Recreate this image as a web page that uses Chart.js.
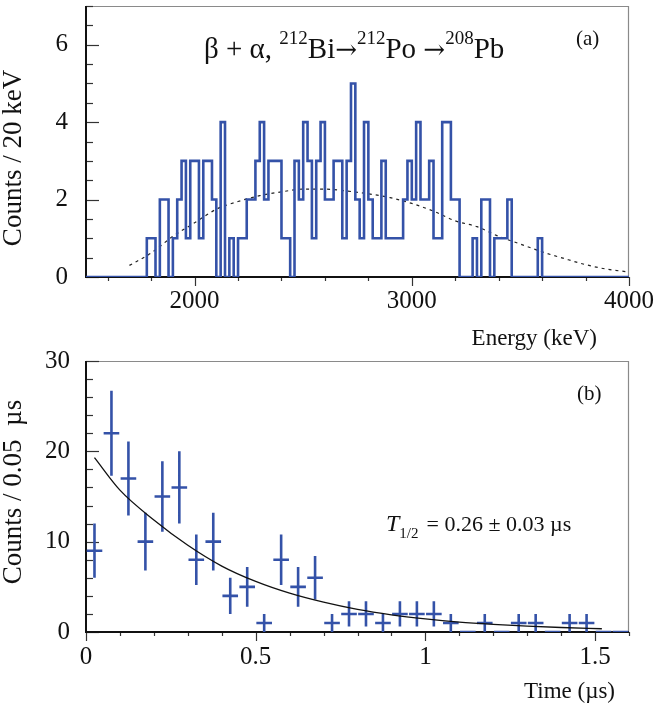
<!DOCTYPE html>
<html>
<head>
<meta charset="utf-8">
<script src="https://cdn.jsdelivr.net/npm/chart.js@4.4.0/dist/chart.umd.min.js"></script>
<style>
  html, body { margin: 0; padding: 0; background: #fff; }
  #wrap { position: relative; width: 655px; height: 706px; }
  canvas { position: absolute; left: 0; }
  #energyChart { top: 0; }
  #timeChart { top: 350px; }
</style>
</head>
<body>
<div id="wrap">
  <canvas id="energyChart" width="655" height="350"></canvas>
  <canvas id="timeChart" width="655" height="356"></canvas>
</div>
<script>
// panel (a): energy spectrum, 20 keV bins starting at 1780 keV
var binStart = 1780;
var binWidth = 20;
var countsPerBin = [
  1, 1, 0, 2, 2, 0, 1, 2, 3, 1,   // 1780 - 1980
  3, 3, 1, 3, 3, 2, 0, 4, 0, 1,   // 1980 - 2180
  0, 1, 1, 2, 2, 3, 4, 2, 3, 3,   // 2180 - 2380
  3, 1, 1, 0, 3, 2, 4, 3, 1, 3,   // 2380 - 2580
  4, 2, 2, 3, 3, 1, 3, 5, 2, 1,   // 2580 - 2780
  4, 2, 1, 1, 3, 1, 1, 1, 1, 2,   // 2780 - 2980
  3, 2, 4, 2, 2, 3, 1, 1, 4, 4,   // 2980 - 3180
  2, 2, 0, 0, 0, 1, 0, 2, 2, 0,   // 3180 - 3380
  1, 1, 1, 2, 0, 0, 0, 0, 0, 0,   // 3380 - 3580
  1                               // 3580 - 3600
];
// dashed simulated spectrum shape
var shapeEnergy = [1700, 1800, 1900, 2000, 2100, 2200, 2300, 2400, 2500, 2600, 2700, 2800,
                   2900, 3000, 3100, 3200, 3300, 3400, 3500, 3600, 3700, 3800, 3900, 4000];
var shapeCounts = [0.3, 0.62, 1.05, 1.4, 1.75, 1.95, 2.1, 2.2, 2.27, 2.27, 2.22, 2.15,
                   2.05, 1.9, 1.7, 1.45, 1.3, 1.05, 0.85, 0.65, 0.48, 0.32, 0.2, 0.13];
var energyTicks = [2000, 3000, 4000];
var countTicks = [0, 2, 4, 6];

// panel (b): time distribution, 0.05 us bins
var timeCenters = [0.025, 0.075, 0.125, 0.175, 0.225, 0.275, 0.325, 0.375, 0.425, 0.475,
                   0.525, 0.575, 0.625, 0.675, 0.725, 0.775, 0.825, 0.875, 0.925, 0.975,
                   1.025, 1.075, 1.125, 1.175, 1.225, 1.275, 1.325, 1.375, 1.425, 1.475,
                   1.525, 1.575];
var timeCounts = [9, 22, 17, 10, 15, 16, 8, 10, 4, 5,
                  1, 8, 5, 6, 1, 2, 2, 1, 2, 2,
                  2, 1, 0, 1, 0, 1, 1, 0, 1, 1,
                  0, 0];
var timeErrors = [3, 4.7, 4.1, 3.2, 3.9, 4, 2.8, 3.2, 2, 2.2,
                  1, 2.8, 2.2, 2.4, 1, 1.4, 1.4, 1, 1.4, 1.4,
                  1.4, 1, 0, 1, 0, 1, 1, 0, 1, 1,
                  0, 0];
// exponential fit, T1/2 = 0.26 us
var fitTimes = [0.025, 0.1, 0.2, 0.3, 0.4, 0.5, 0.6, 0.7, 0.8, 0.9, 1.0, 1.1, 1.2, 1.3, 1.4, 1.52];
var fitCounts = [19.3, 15.7, 12.4, 9.6, 7.3, 5.6, 4.3, 3.3, 2.5, 1.9, 1.45, 1.1, 0.85, 0.65, 0.5, 0.36];
var timeTicks = [0, 0.5, 1, 1.5];
var timeCountTicks = [0, 10, 20, 30];

var blue = '#3452a8';
var serif = "'Liberation Serif', 'Times New Roman', serif";
Chart.defaults.font.family = serif;
Chart.defaults.color = '#111';

// histogram as a stepped line
var histPoints = [{x: 1500, y: 0}];
countsPerBin.forEach(function (c, i) {
  histPoints.push({x: binStart + i * binWidth, y: c});
});
histPoints.push({x: binStart + countsPerBin.length * binWidth, y: 0});
histPoints.push({x: 4000, y: 0});

var shapePoints = shapeEnergy.map(function (e, i) { return {x: e, y: shapeCounts[i]}; });

// error bars as broken line segments
var halfBin = 0.023;
var vBars = [], hBars = [];
timeCenters.forEach(function (t, i) {
  if (timeErrors[i] > 0) {
    vBars.push({x: t, y: timeCounts[i] - timeErrors[i]}, {x: t, y: timeCounts[i] + timeErrors[i]}, {x: t, y: null});
  }
  hBars.push({x: t - halfBin, y: timeCounts[i]}, {x: t + halfBin, y: timeCounts[i]}, {x: t, y: null});
});
var fitPoints = fitTimes.map(function (t, i) { return {x: t, y: fitCounts[i]}; });

// frame, inside y ticks, outside x ticks, and text labels
var frameTicks = {
  id: 'frameTicks',
  beforeDatasetsDraw: function (chart, args, o) {
    var ctx = chart.ctx, a = chart.chartArea, x = chart.scales.x, y = chart.scales.y;
    ctx.save();
    ctx.strokeStyle = '#8a8a8a';
    ctx.lineWidth = 1.2;
    ctx.beginPath();
    ctx.moveTo(a.left, a.top + 0.5);
    ctx.lineTo(a.right - 0.5, a.top + 0.5);
    ctx.lineTo(a.right - 0.5, a.bottom);
    ctx.stroke();

    ctx.strokeStyle = '#333';
    ctx.lineWidth = 1.2;
    var n = Math.round((y.max - y.min) / o.yMinor);
    for (var i = 0; i <= n; i++) {
      var v = y.min + i * o.yMinor;
      var major = Math.abs(v / o.yMajor - Math.round(v / o.yMajor)) < 1e-6;
      var py = Math.round(y.getPixelForValue(v)) + 0.5;
      ctx.beginPath();
      ctx.moveTo(a.left, py);
      ctx.lineTo(a.left + (major ? 13 : 7), py);
      ctx.stroke();
    }
    var first = Math.ceil(x.min / o.xMinor - 1e-9);
    var last = Math.floor(x.max / o.xMinor + 1e-9);
    for (var k = first; k <= last; k++) {
      var xv = k * o.xMinor;
      var xmaj = Math.abs(xv / o.xMajor - Math.round(xv / o.xMajor)) < 1e-6;
      var px = Math.round(x.getPixelForValue(xv)) + 0.5;
      ctx.beginPath();
      ctx.moveTo(px, a.bottom);
      ctx.lineTo(px, a.bottom + (xmaj ? 9 : 4));
      ctx.stroke();
    }

    ctx.strokeStyle = '#111';
    ctx.lineWidth = 2;
    ctx.beginPath();
    ctx.moveTo(a.left, a.top);
    ctx.lineTo(a.left, a.bottom);
    ctx.lineTo(a.right, a.bottom);
    ctx.stroke();
    ctx.restore();
  },
  afterDraw: function (chart, args, o) {
    var ctx = chart.ctx;
    (o.labels || []).forEach(function (lab) {
      ctx.save();
      ctx.translate(lab.x, lab.y);
      if (lab.rotate) ctx.rotate(lab.rotate);
      ctx.fillStyle = '#111';
      ctx.textBaseline = 'alphabetic';
      var total = 0;
      lab.runs.forEach(function (r) {
        ctx.font = (r.style || '') + ' ' + r.size + 'px ' + (r.family || serif);
        r.w = ctx.measureText(r.t).width;
        total += r.w + (r.gap || 0);
      });
      var cx = lab.align === 'right' ? -total : (lab.align === 'center' ? -total / 2 : 0);
      lab.runs.forEach(function (r) {
        ctx.font = (r.style || '') + ' ' + r.size + 'px ' + (r.family || serif);
        ctx.fillText(r.t, cx, r.dy || 0);
        cx += r.w + (r.gap || 0);
      });
      ctx.restore();
    });
  }
};

function fixedTicks(list) {
  return function (scale) { scale.ticks = list.map(function (v) { return {value: v}; }); };
}
// keep the plot area where the layout padding puts it
function fixWidth(w) {
  return function (s) { s.width = w; s.paddingTop = 0; s.paddingBottom = 0; };
}
function fixHeight(h) {
  return function (s) { s.height = h; s.paddingLeft = 0; s.paddingRight = 0; };
}

var arrowFont = "'DejaVu Serif', serif";

new Chart(document.getElementById('energyChart'), {
  type: 'line',
  data: {
    datasets: [
      {data: histPoints, stepped: 'before', borderColor: blue, borderWidth: 2.6, pointRadius: 0, fill: false},
      {data: shapePoints, borderColor: '#222', borderWidth: 1.2, borderDash: [3, 4], pointRadius: 0,
       cubicInterpolationMode: 'monotone', fill: false}
    ]
  },
  options: {
    responsive: false,
    animation: false,
    layout: {padding: {left: 0, right: 26, top: 6, bottom: 0}},
    plugins: {
      legend: {display: false},
      tooltip: {enabled: false},
      frameTicks: {
        yMinor: 0.5, yMajor: 2, xMinor: 200, xMajor: 1000,
        labels: [
          {x: 21, y: 158, rotate: -Math.PI / 2, align: 'center', runs: [{t: 'Counts / 20 keV', size: 27}]},
          {x: 597, y: 345, align: 'right', runs: [{t: 'Energy (keV)', size: 23}]},
          {x: 576, y: 45, runs: [{t: '(a)', size: 21}]},
          {x: 204, y: 58, runs: [
            {t: '\u03b2 + \u03b1, ', size: 29},
            {t: '212', size: 19, dy: -14},
            {t: 'Bi', size: 29},
            {t: '\u2192', size: 26, family: arrowFont},
            {t: '212', size: 19, dy: -14},
            {t: 'Po ', size: 29},
            {t: '\u2192', size: 26, family: arrowFont},
            {t: '208', size: 19, dy: -14},
            {t: 'Pb', size: 29}
          ]}
        ]
      }
    },
    scales: {
      x: {
        type: 'linear', min: 1500, max: 4000,
        grid: {display: false, drawTicks: false}, border: {display: false},
        afterBuildTicks: fixedTicks(energyTicks),
        afterFit: fixHeight(73),
        ticks: {font: {size: 25}, color: '#111', padding: 9, maxRotation: 0, autoSkip: false,
                callback: function (v) { return String(v); }}
      },
      y: {
        type: 'linear', min: 0, max: 7,
        grid: {display: false, drawTicks: false}, border: {display: false},
        afterBuildTicks: fixedTicks(countTicks),
        afterFit: fixWidth(86),
        ticks: {font: {size: 25}, color: '#111', padding: 18, callback: function (v) { return String(v); }}
      }
    }
  },
  plugins: [frameTicks]
});

new Chart(document.getElementById('timeChart'), {
  type: 'line',
  data: {
    datasets: [
      {data: fitPoints, borderColor: '#111', borderWidth: 1.3, pointRadius: 0, cubicInterpolationMode: 'monotone', fill: false},
      {data: vBars, borderColor: blue, borderWidth: 2.6, pointRadius: 0, spanGaps: false, fill: false},
      {data: hBars, borderColor: blue, borderWidth: 2.6, pointRadius: 0, spanGaps: false, fill: false}
    ]
  },
  options: {
    responsive: false,
    animation: false,
    layout: {padding: {left: 0, right: 26, top: 11, bottom: 0}},
    plugins: {
      legend: {display: false},
      tooltip: {enabled: false},
      frameTicks: {
        yMinor: 2, yMajor: 10, xMinor: 0.1, xMajor: 0.5,
        labels: [
          {x: 21, y: 142, rotate: -Math.PI / 2, align: 'center', runs: [{t: 'Counts / 0.05  \u00b5s', size: 27}]},
          {x: 615, y: 348, align: 'right', runs: [{t: 'Time (\u00b5s)', size: 23}]},
          {x: 577, y: 50, runs: [{t: '(b)', size: 21}]},
          {x: 386, y: 181, runs: [
            {t: 'T', size: 24, style: 'italic'},
            {t: '1/2', size: 15, dy: 7, gap: 8},
            {t: '= 0.26 \u00b1 0.03 \u00b5s', size: 22}
          ]}
        ]
      }
    },
    scales: {
      x: {
        type: 'linear', min: 0, max: 1.6,
        grid: {display: false, drawTicks: false}, border: {display: false},
        afterBuildTicks: fixedTicks(timeTicks),
        afterFit: fixHeight(74),
        ticks: {font: {size: 25}, color: '#111', padding: 10, maxRotation: 0, autoSkip: false,
                callback: function (v) { return String(v); }}
      },
      y: {
        type: 'linear', min: 0, max: 30,
        grid: {display: false, drawTicks: false}, border: {display: false},
        afterBuildTicks: fixedTicks(timeCountTicks),
        afterFit: fixWidth(86),
        ticks: {font: {size: 25}, color: '#111', padding: 16, callback: function (v) { return String(v); }}
      }
    }
  },
  plugins: [frameTicks]
});
</script>
</body>
</html>
